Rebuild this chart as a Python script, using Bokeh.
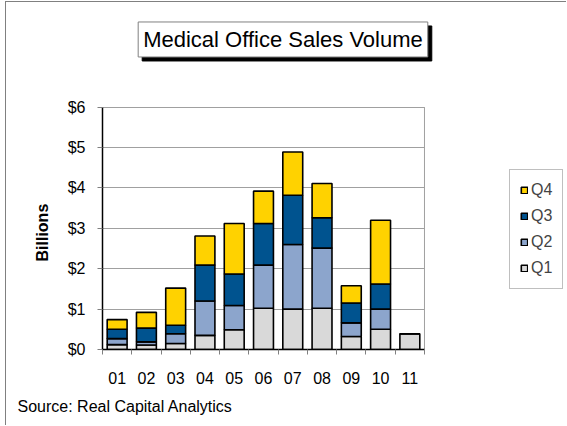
from bokeh.plotting import figure
from bokeh.models import (ColumnDataSource, FixedTicker, Label, Legend, LegendItem,
                          Range1d, Title)
from bokeh.embed import file_html
from bokeh.resources import INLINE

years = ["01", "02", "03", "04", "05", "06", "07", "08", "09", "10", "11"]
q1 = [0.12, 0.11, 0.15, 0.35, 0.49, 1.02, 1.00, 1.02, 0.32, 0.50, 0.39]
q2 = [0.15, 0.08, 0.24, 0.85, 0.60, 1.07, 1.60, 1.49, 0.34, 0.50, 0.00]
q3 = [0.23, 0.34, 0.21, 0.89, 0.78, 1.03, 1.22, 0.75, 0.49, 0.62, 0.00]
q4 = [0.24, 0.39, 0.92, 0.72, 1.25, 0.80, 1.07, 0.85, 0.43, 1.58, 0.00]
y_ticks = [0, 1, 2, 3, 4, 5, 6]
y_tick_labels = ["$0", "$1", "$2", "$3", "$4", "$5", "$6"]
quarters = ["Q1", "Q2", "Q3", "Q4"]
colors = ["#D9D9D9", "#8CA5CC", "#00538F", "#FFD200"]

x = list(range(len(years)))
src = ColumnDataSource(dict(x=x, Q1=q1, Q2=q2, Q3=q3, Q4=q4))

FONT = "Liberation Sans"
Y_MAX = y_ticks[-1]
X_START, X_END = -0.5, len(years) - 0.5

p = figure(width=561, height=424, output_backend="svg", toolbar_location=None,
           x_range=Range1d(X_START, 15.386), y_range=Range1d(0, 8.343),
           min_border_left=96, min_border_right=0, min_border_top=10,
           min_border_bottom=77)
p.styles = {"margin-left": "5px", "margin-top": "1px",
            "border-left": "1px solid #808080", "border-top": "1px solid #808080"}

renderers = p.vbar_stack(quarters, x="x", width=0.68, source=src, color=colors,
                         line_color="black", line_width=1.6)

# right border of plot area
p.segment(x0=[X_END], y0=[0], x1=[X_END], y1=[Y_MAX], line_color="#A0A0A0", line_width=1)

# axes
xa = p.xaxis[0]
xa.ticker = FixedTicker(ticks=x, minor_ticks=[i - 0.5 for i in range(len(years) + 1)])
xa.bounds = (X_START, X_END)
xa.major_label_overrides = {i: years[i] for i in x}
xa.major_tick_out = 0
xa.major_tick_in = 0
xa.minor_tick_out = 5
xa.minor_tick_in = 0
xa.minor_tick_line_color = "#808080"
xa.axis_line_color = "black"
xa.axis_line_width = 1.5
xa.major_label_text_font = FONT
xa.major_label_text_font_size = "16px"
xa.major_label_text_color = "black"
xa.major_label_standoff = 17

ya = p.yaxis[0]
ya.ticker = FixedTicker(ticks=y_ticks)
ya.bounds = (0, Y_MAX)
ya.major_label_overrides = {t: l for t, l in zip(y_ticks, y_tick_labels)}
ya.major_tick_out = 5
ya.major_tick_in = 0
ya.major_tick_line_color = "#808080"
ya.minor_tick_line_color = None
ya.axis_line_color = "black"
ya.axis_line_width = 1.5
ya.major_label_text_font = FONT
ya.major_label_text_font_size = "16px"
ya.major_label_text_color = "black"
ya.major_label_standoff = 12

# y axis title, centred on the $0-$6 span
p.add_layout(Title(text="Billions", align="left", offset=88, text_font=FONT,
                   text_font_size="16px", text_font_style="bold",
                   text_color="black", standoff=28), "left")

p.xgrid.grid_line_color = None
p.ygrid.ticker = FixedTicker(ticks=y_ticks)
p.ygrid.bounds = (0, Y_MAX)
if "cross_bounds" in p.ygrid.properties():
    p.ygrid.cross_bounds = (X_START, X_END)
    p.ygrid.grid_line_color = "#A0A0A0"
else:
    p.ygrid.grid_line_color = None
    p.segment(x0=[X_START] * len(y_ticks), y0=y_ticks, x1=[X_END] * len(y_ticks),
              y1=y_ticks, line_color="#A0A0A0", line_width=1, level="underlay")
p.ygrid.grid_line_width = 1
p.outline_line_color = None

# title box with shadow
tx, ty = 5.666, 7.675
title_text = "Medical Office Sales Volume"
p.add_layout(Label(x=tx, y=ty, text=title_text, text_align="center",
                   text_baseline="middle", text_font=FONT, text_font_size="22px",
                   text_color="black", background_fill_color="black",
                   border_line_color="black", padding=5, x_offset=4, y_offset=-4))
p.add_layout(Label(x=tx, y=ty, text=title_text, text_align="center",
                   text_baseline="middle", text_font=FONT, text_font_size="22px",
                   text_color="black", background_fill_color="white",
                   border_line_color="#808080", padding=5))

# source line below the x axis
src_title = Title(text="Source: Real Capital Analytics", align="left", offset=-85,
                  text_font=FONT, text_font_size="16px", text_font_style="normal",
                  text_color="black", standoff=19)
p.add_layout(src_title, "below")

# legend
items = [LegendItem(label=q, renderers=[r]) for q, r in zip(quarters, renderers)][::-1]
legend = Legend(items=items, location=(407, 60), orientation="vertical",
                label_text_font=FONT, label_text_font_size="16px",
                label_height=20, glyph_height=8, glyph_width=8, label_standoff=3,
                spacing=6, padding=10, margin=0,
                border_line_color="#808080", border_line_width=1,
                background_fill_color="white")
p.add_layout(legend)

open("out.html", "w").write(file_html(p, INLINE))
